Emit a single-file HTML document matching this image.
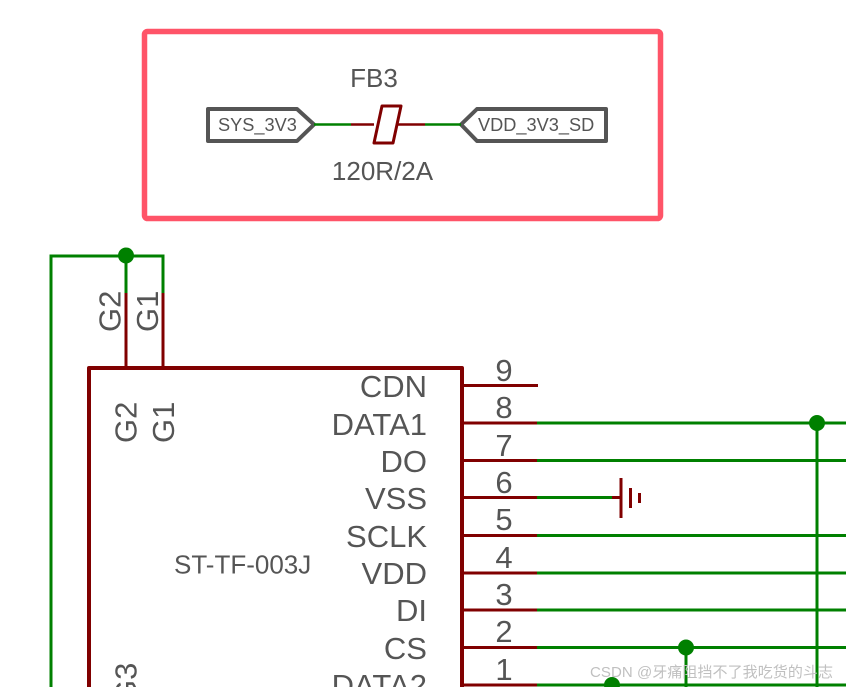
<!DOCTYPE html>
<html>
<head>
<meta charset="utf-8">
<style>
html,body{margin:0;padding:0;background:#fff;width:846px;height:687px;overflow:hidden}
svg{display:block}
text{font-family:"Liberation Sans","Noto Sans CJK SC",sans-serif;fill:#555}
</style>
</head>
<body>
<svg width="846" height="687" viewBox="0 0 846 687" xmlns="http://www.w3.org/2000/svg">
<rect width="846" height="687" fill="#fff"/>
<!-- highlight box -->
<rect x="144.500" y="31.500" width="516" height="187" rx="3" fill="none" stroke="#ff5468" stroke-width="5.500"/>
<!-- ports -->
<polygon points="208,109 297,109 314,124.500 297,141 208,141" fill="#fff" stroke="#555" stroke-width="4" stroke-linejoin="round"/>
<polygon points="606,109 477,109 461,124.500 477,141 606,141" fill="#fff" stroke="#555" stroke-width="4" stroke-linejoin="round"/>
<line x1="314" y1="124.500" x2="351" y2="124.500" stroke="#008000" stroke-width="2.500"/>
<line x1="425" y1="124.500" x2="461" y2="124.500" stroke="#008000" stroke-width="2.500"/>
<line x1="351" y1="124.500" x2="374" y2="124.500" stroke="#800000" stroke-width="2.500"/>
<line x1="397" y1="124.500" x2="425" y2="124.500" stroke="#800000" stroke-width="2.500"/>
<polygon points="382,106 401,106 393,143 374,143" fill="#fff" stroke="#800000" stroke-width="3" stroke-linejoin="round"/>
<text x="374" y="87" font-size="26" text-anchor="middle">FB3</text>
<text x="382.500" y="180" font-size="26" text-anchor="middle">120R/2A</text>
<text x="218" y="131" font-size="18.200">SYS_3V3</text>
<text x="478" y="131" font-size="18.200">VDD_3V3_SD</text>
<!-- green ground loop -->
<path d="M51,687 V256 H163 V293 M126,256 V293" fill="none" stroke="#008000" stroke-width="3"/>
<circle cx="126" cy="255.500" r="8" fill="#008000"/>
<path d="M126,293 V368 M163,293 V368" fill="none" stroke="#800000" stroke-width="3"/>
<!-- connector body -->
<path d="M89,687 V368 H462 V687" fill="none" stroke="#800000" stroke-width="4" stroke-linejoin="round"/>
<!-- pins -->
<g stroke="#800000" stroke-width="3" fill="none">
<path d="M462,385.500 H538 M462,423 H537 M462,460.500 H537 M462,497.500 H537 M462,535.500 H537 M462,573 H537 M462,610 H537 M462,647.500 H537 M462,685 H537"/>
<path d="M612,497.500 H621 M621,478 V518 M630.500,488 V508 M639.500,493 V503"/>
</g>
<g stroke="#008000" stroke-width="3" fill="none">
<path d="M537,423 H846 M537,460.500 H846 M537,497.500 H612 M537,535.500 H846 M537,573 H846 M537,610 H846 M537,647.500 H846 M537,685 H846"/>
<path d="M817,423 V687 M686,648 V687"/>
</g>
<circle cx="817" cy="423" r="8" fill="#008000"/>
<circle cx="686" cy="647.500" r="8" fill="#008000"/>
<circle cx="612" cy="685" r="8" fill="#008000"/>
<!-- pin names -->
<g font-size="31" text-anchor="end">
<text x="427" y="397">CDN</text>
<text x="427" y="435">DATA1</text>
<text x="427" y="472">DO</text>
<text x="427" y="509">VSS</text>
<text x="427" y="547">SCLK</text>
<text x="427" y="584">VDD</text>
<text x="427" y="621">DI</text>
<text x="427" y="659">CS</text>
<text x="427" y="696">DATA2</text>
</g>
<!-- pin numbers -->
<g font-size="31" text-anchor="middle">
<text x="504" y="381">9</text>
<text x="504" y="418">8</text>
<text x="504" y="456">7</text>
<text x="504" y="493">6</text>
<text x="504" y="530">5</text>
<text x="504" y="568">4</text>
<text x="504" y="605">3</text>
<text x="504" y="642">2</text>
<text x="504" y="680">1</text>
</g>
<text x="174" y="573.500" font-size="26">ST-TF-003J</text>
<!-- rotated labels -->
<g font-size="31">
<text transform="translate(120.500,332) rotate(-90)">G2</text>
<text transform="translate(158,332) rotate(-90)">G1</text>
<text transform="translate(136.500,443) rotate(-90)">G2</text>
<text transform="translate(174,443) rotate(-90)">G1</text>
<text transform="translate(136.500,704) rotate(-90)">G3</text>
</g>
<!-- watermark -->
<text x="590" y="677" font-size="15" textLength="243" style="fill:#c0c0c0">CSDN @牙痛阻挡不了我吃货的斗志</text>
</svg>
</body>
</html>
